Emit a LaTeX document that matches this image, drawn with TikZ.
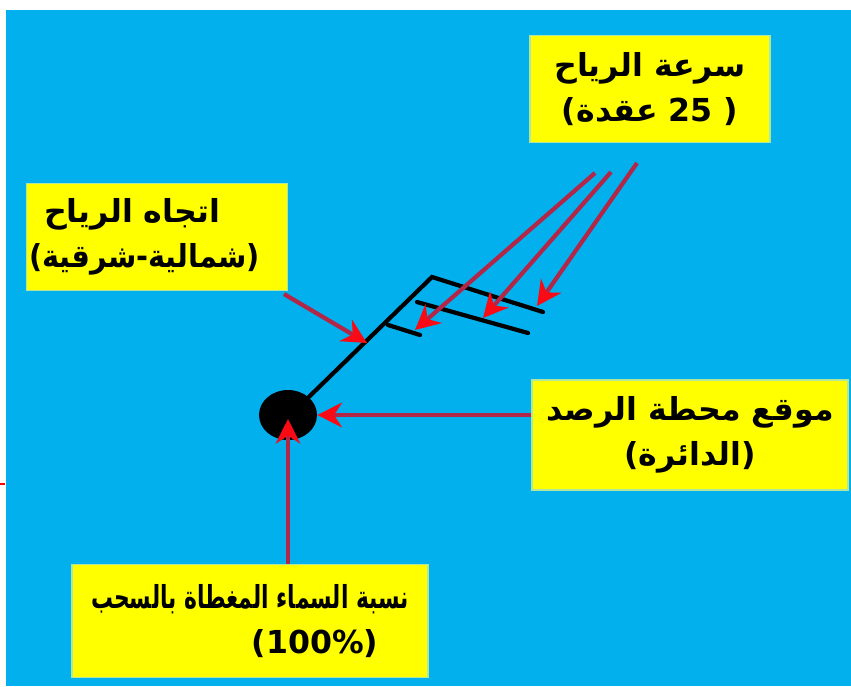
\documentclass[tikz,border=0pt]{standalone}
\usepackage{fontspec}
\usepackage{tikz}
\usetikzlibrary{arrows.meta,shapes.geometric}
\TeXXeTstate=1
\newfontfamily\arabicfont[Script=Arabic]{DejaVu Sans}
\newfontfamily\latinfont{DejaVu Sans}
\definecolor{skyblue}{RGB}{2,176,238}
\definecolor{labelyellow}{RGB}{255,255,0}
\definecolor{labeledge}{RGB}{175,230,160}
\definecolor{pointerline}{RGB}{178,38,72}
\definecolor{pointerhead}{RGB}{250,10,20}
\tikzset{
	labelbox/.style={rectangle, fill=labelyellow, draw=labeledge, line width=0.6pt, align=center, inner sep=0pt,
		font=\arabicfont\bfseries\fontsize{18}{25.5}\selectfont},
	pointer/.style={draw=pointerline, line width=2.4pt, -{Stealth[length=14pt,width=14pt,pointerhead]}},
	barb/.style={black, line width=2.4pt, line cap=round, line join=miter}
}
\begin{document}
\begin{tikzpicture}[x=0.02cm,y=-0.02cm]
				\useasboundingbox (0,0) rectangle (851,686);
				\fill[white] (0,0) rectangle (851,686);
				\fill[skyblue] (6,10) rectangle (851,686);
				\draw[red, line width=1.5pt] (0,484) -- (5,484);
				\node[labelbox, minimum width=240*0.02cm, minimum height=107*0.02cm] (speed) at (650,89)
					{\beginR سرعة الرياح\endR\\{\latinfont(}عقدة{\latinfont\ 25 )}};
				\node[labelbox, minimum width=261*0.02cm, minimum height=107*0.02cm] (direction) at (157,237)
					{\beginR اتجاه الرياح\endR\hspace*{1cm}\\\scalebox{0.91}[1]{{\latinfont(}شمالية-شرقية{\latinfont)}}\hspace*{0.5cm}};
				\node[labelbox, minimum width=316*0.02cm, minimum height=110*0.02cm] (station) at (690,435)
					{\beginR موقع محطة الرصد\endR\\{\latinfont(}الدائرة{\latinfont)}};
				\node[labelbox, minimum width=356*0.02cm, minimum height=113*0.02cm] (cloud) at (250,621)
					{\scalebox{0.69}[1]{\beginR نسبة السماء المغطاة بالسحب\endR}\\\hspace*{2.6cm}{\latinfont(100\%)}};
				\node[ellipse, fill=black, minimum width=58*0.02cm, minimum height=50*0.02cm, inner sep=0pt] (stn) at (288,415) {};
				\coordinate (top) at (432,277);
				\coordinate (knot2) at (417,302);
				\coordinate (half) at (388,325);
				\draw[barb] (stn.north east) -- (top) -- (543,312);
				\draw[barb] (knot2) -- (528,333);
				\draw[barb] (half) -- (420,335);
				\coordinate (hit1) at (415,330);
				\coordinate (hit2) at (483,318);
				\coordinate (hit3) at (537,306);
				\coordinate (from1) at (595,173);
				\coordinate (from2) at (611,172);
				\coordinate (from3) at (637,163);
				\coordinate (staffpt) at (367,343);
				\coordinate (stnhit) at (288,419);
				\draw[pointer] (from1) -- (hit1);
				\draw[pointer] (from2) -- (hit2);
				\draw[pointer] (from3) -- (hit3);
				\draw[pointer] (direction.south east) ++(-4,3) -- (staffpt);
				\draw[pointer] (station.west |- stn) -- (stn.east);
				\draw[pointer] (cloud.north -| stn) -- (stnhit);
			\end{tikzpicture}
\end{document}
